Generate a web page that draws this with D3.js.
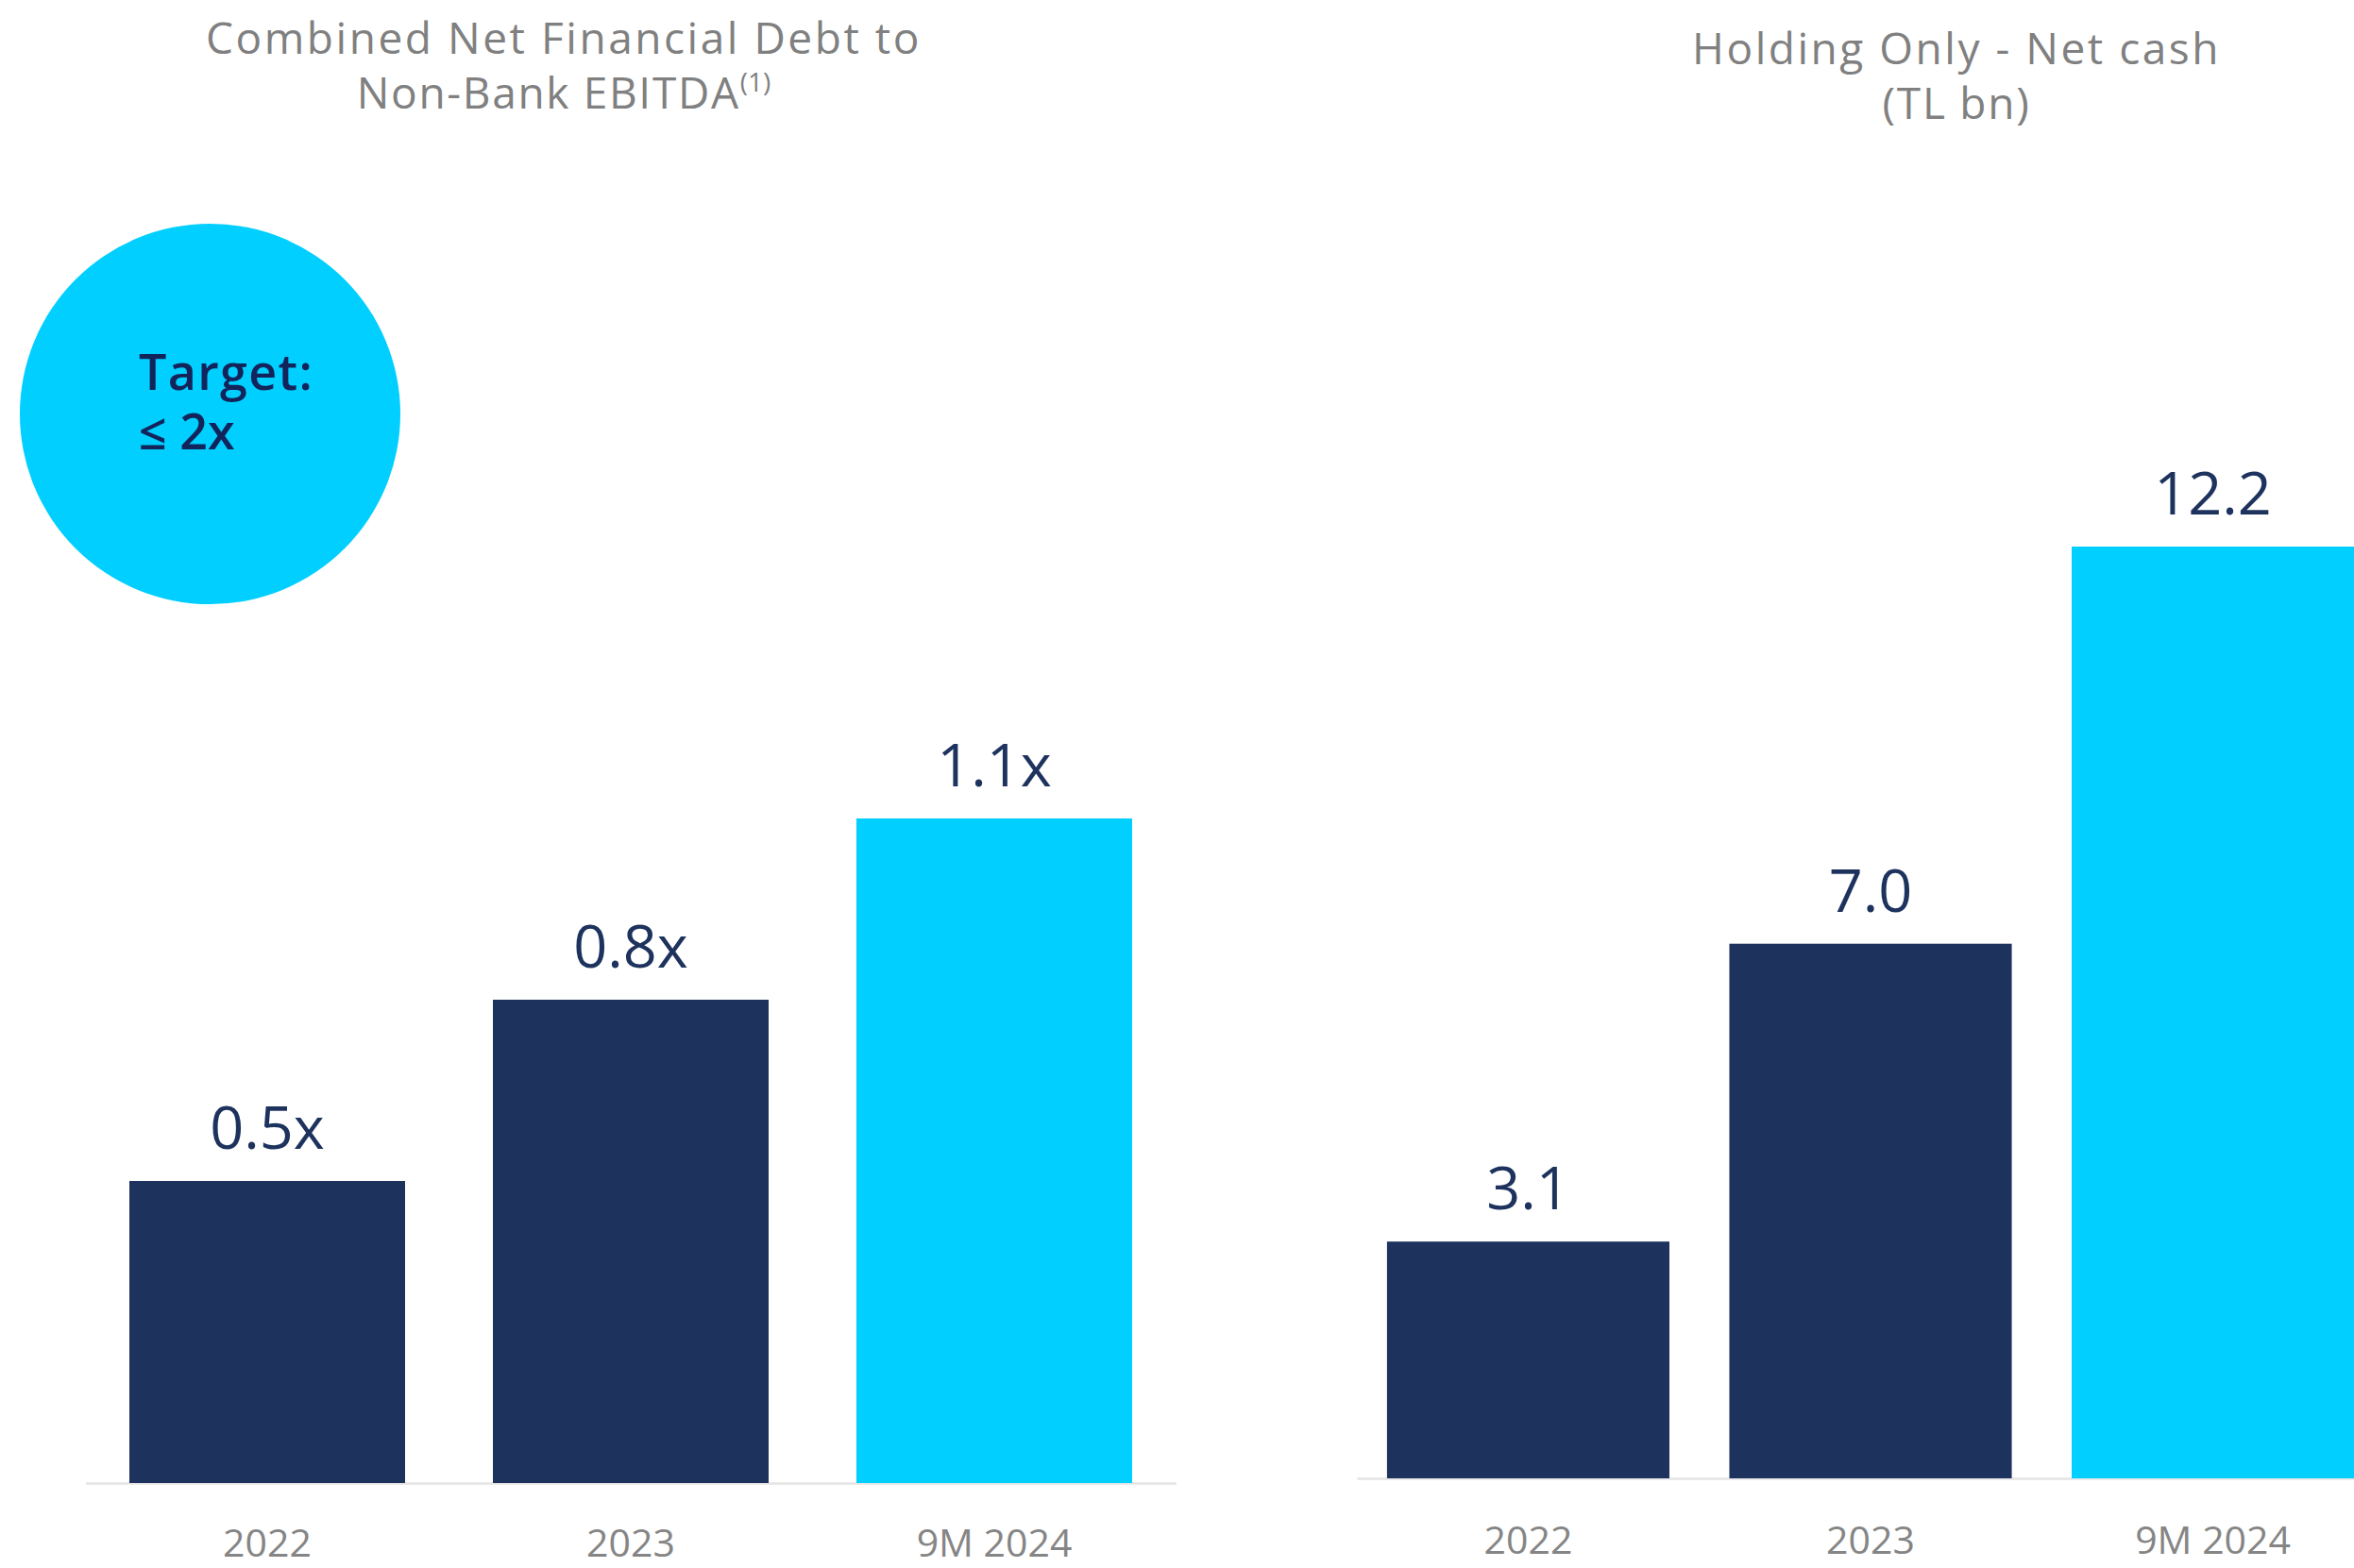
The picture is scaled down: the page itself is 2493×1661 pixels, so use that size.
<!DOCTYPE html>
<html>
<head>
<meta charset="utf-8">
<script src="https://cdn.jsdelivr.net/npm/d3@7"></script>
<style>
  html, body { margin: 0; padding: 0; background: #ffffff; }
  svg { display: block; }
  text { font-family: "Open Sans", "Inter", "Noto Sans", sans-serif; }
</style>
</head>
<body>
<svg id="chart" width="2493" height="1661"></svg>
<script>
// ---------- data ----------
const categories = ["2022", "2023", "9M 2024"];
const leftValues = [0.5, 0.8, 1.1];
const leftLabels = ["0.5x", "0.8x", "1.1x"];
const rightValues = [3.1, 7.0, 12.2];
const rightLabels = ["3.1", "7.0", "12.2"];
const highlight = [false, false, true];
const leftTitle = ["Combined Net Financial Debt to", "Non-Bank EBITDA"];
const leftTitleSup = "(1)";
const rightTitle = ["Holding Only - Net cash", "(TL bn)"];
const targetText = ["Target:", "≤ 2x"];

// ---------- styles ----------
const NAVY = "#1d335e";
const CYAN = "#00cfff";
const GRAY_TEXT = "#808080";
const AXIS_GRAY = "#e4e4e4";
const LABEL_NAVY = "#1d335e";

const svg = d3.select("#chart");

// spread a text element's letters so it spans a target width
function fit(sel, target) {
  const node = sel.node();
  const n = node.textContent.length;
  const len = node.getComputedTextLength();
  if (n > 1) sel.attr("letter-spacing", (target - len) / n);
  return sel;
}

function panel(cfg) {
  const g = svg.append("g");
  const x = d3.scaleBand().domain(categories)
    .range(cfg.xRange).paddingInner(cfg.padIn).paddingOuter(cfg.padOut);
  const y = d3.scaleLinear().domain([0, 1]).range([cfg.baseY, cfg.baseY - cfg.pxPerUnit]);

  const axis = g.append("g")
    .attr("transform", `translate(0,${cfg.baseY})`)
    .call(d3.axisBottom(x).tickSize(0).tickSizeOuter(0));
  axis.select(".domain").attr("stroke", AXIS_GRAY).attr("stroke-width", 2.5);
  axis.selectAll("text")
    .attr("y", cfg.tickY).attr("dy", null)
    .attr("fill", "#858585")
    .style("font-size", "41px")
    .style("font-family", '"Open Sans", "Inter", sans-serif');

  g.selectAll("rect.bar").data(cfg.values).join("rect")
    .attr("class", "bar")
    .attr("x", (d, i) => x(categories[i]))
    .attr("width", x.bandwidth())
    .attr("y", d => y(d))
    .attr("height", d => y(0) - y(d))
    .attr("fill", (d, i) => highlight[i] ? CYAN : NAVY);

  g.selectAll("text.val").data(cfg.values).join("text")
    .attr("class", "val")
    .attr("x", (d, i) => x(categories[i]) + x.bandwidth() / 2)
    .attr("y", d => y(d) - 34)
    .attr("text-anchor", "middle")
    .attr("fill", LABEL_NAVY)
    .style("font-size", "63px")
    .style("font-weight", 500)
    .text((d, i) => cfg.labels[i]);
  return g;
}

panel({
  values: leftValues, labels: leftLabels,
  xRange: [90.5, 1245.5], padIn: 0.2416, padOut: 0.1208,
  baseY: 1571, pxPerUnit: 640, tickY: 78
});
panel({
  values: rightValues, labels: rightLabels,
  xRange: [1437, 2525], padIn: 0.175, padOut: 0.088,
  baseY: 1566, pxPerUnit: 80.9, tickY: 80
});

// ---------- titles ----------
const lt = svg.append("text").attr("text-anchor", "middle")
  .attr("fill", GRAY_TEXT).style("font-size", "46px").style("font-weight", 400);
fit(lt.append("tspan").attr("x", 597).attr("y", 57).text(leftTitle[0]), 758);
const l2 = lt.append("tspan").attr("x", 597).attr("y", 115);
fit(l2.append("tspan").text(leftTitle[1]), 406);
l2.append("tspan").attr("dy", -18).style("font-size", "28px").text(leftTitleSup);

const rt = svg.append("text").attr("text-anchor", "middle")
  .attr("fill", GRAY_TEXT).style("font-size", "46px").style("font-weight", 400);
fit(rt.append("tspan").attr("x", 2072).attr("y", 68).text(rightTitle[0]), 560);
fit(rt.append("tspan").attr("x", 2072).attr("y", 126).text(rightTitle[1]), 157);

// ---------- target bubble ----------
svg.append("circle").attr("cx", 222.5).attr("cy", 438.5).attr("r", 201.5).attr("fill", CYAN);
const tt = svg.append("text").attr("fill", "#13245a")
  .style("font-size", "52px").style("font-weight", 600);
fit(tt.append("tspan").attr("x", 147).attr("y", 413).text(targetText[0]), 185);
tt.append("tspan").attr("x", 147).attr("y", 476).text(targetText[1]);
</script>
</body>
</html>
